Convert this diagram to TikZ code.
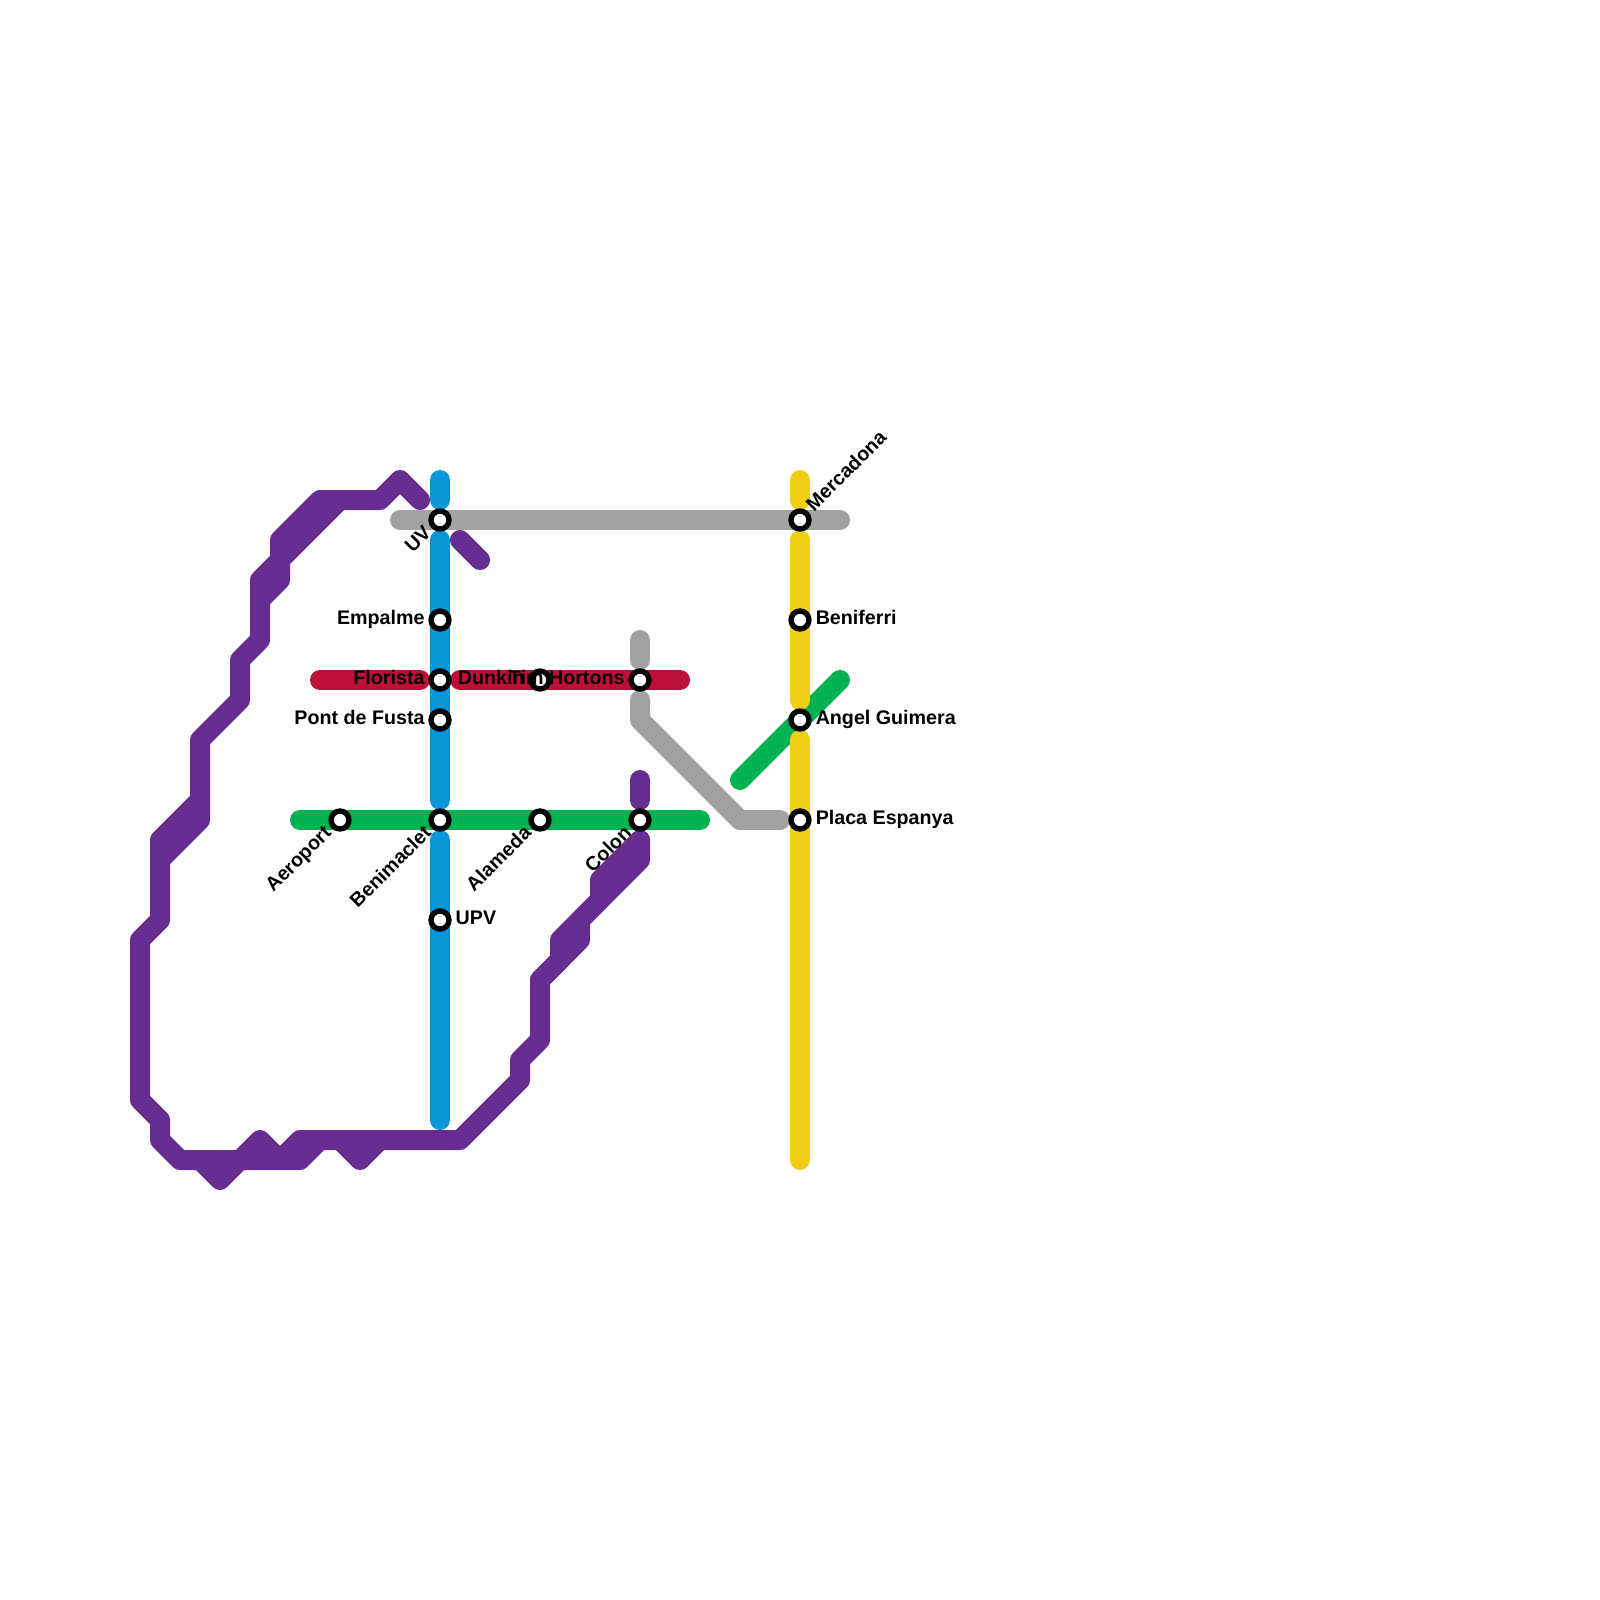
\documentclass[tikz,border=0pt]{standalone}
\usepackage{fontspec}
\setmainfont{Liberation Sans}
\definecolor{linepurple}{HTML}{662C90}
\definecolor{lineblue}{HTML}{0896D7}
\definecolor{linegreen}{HTML}{00B251}
\definecolor{linegray}{HTML}{A2A2A2}
\definecolor{lineyellow}{HTML}{F0CE15}
\definecolor{linered}{HTML}{BD1038}

\begin{document}
\begin{tikzpicture}[
      x=0.25cm, y=-0.25cm,
      track/.style={line width=0.25cm, line cap=round, line join=round},
      stn/.style={circle, draw=black, fill=white, line width=1.9pt, minimum size=6.4pt, inner sep=0pt, outer sep=0pt},
      lbl/.style={font=\bfseries\fontsize{7}{8}\selectfont, inner sep=0pt, text height=3.2pt, text depth=0pt},
      lblleft/.style={lbl, anchor=east, xshift=-5.3pt},
      lblright/.style={lbl, anchor=west, xshift=5.4pt},
      lbldown/.style={lbl, anchor=east, rotate=45, xshift=-5.3pt},
      lblup/.style={lbl, anchor=west, rotate=45, xshift=5.3pt}
    ]
      \useasboundingbox (0,0) rectangle (80,80);

      % Line ends
      \coordinate (graywest) at (20,26);
      \coordinate (grayeast) at (42,26);
      \coordinate (graytop) at (32,32);
      \coordinate (grayup) at (32,33);
      \coordinate (graydown) at (32,35);
      \coordinate (graybend) at (32,36);
      \coordinate (grayfoot) at (37,41);
      \coordinate (grayend) at (39,41);
      \coordinate (greenwest) at (15,41);
      \coordinate (greeneast) at (35,41);
      \coordinate (greenlow) at (37,39);
      \coordinate (greenhigh) at (42,34);
      \coordinate (redwest) at (16,34);
      \coordinate (redstop) at (21,34);
      \coordinate (redstart) at (23,34);
      \coordinate (redeast) at (34,34);
      \coordinate (bluetop) at (22,24);
      \coordinate (bluea) at (22,25);
      \coordinate (blueb) at (22,27);
      \coordinate (bluec) at (22,40);
      \coordinate (blued) at (22,42);
      \coordinate (bluebottom) at (22,56);
      \coordinate (yellowtop) at (40,24);
      \coordinate (yellowa) at (40,25);
      \coordinate (yellowb) at (40,27);
      \coordinate (yellowc) at (40,35);
      \coordinate (yellowd) at (40,37);
      \coordinate (yellowbottom) at (40,58);

      % Purple
      \draw[track, linepurple] (21,25) -- (20,24) -- (19,25) -- (17,25) -- (14,28) -- (14,29) -- (13,30)
        -- (13,32) -- (12,33) -- (12,35) -- (10,37) -- (10,41) -- (8,43) -- (8,46) -- (7,47) -- (7,55)
        -- (8,56) -- (8,57) -- (9,58) -- (15,58) -- (16,57) -- (23,57) -- (26,54) -- (26,53) -- (27,52)
        -- (27,49) -- (29,47) -- (29,46) -- (32,43) -- (32,42);
      \draw[track, linepurple] (17,25) -- (16,25) -- (14,27) -- (14,28) -- (13,29) -- (13,30);
      \draw[track, linepurple] (10,40) -- (8,42) -- (8,43);
      \draw[track, linepurple] (10,58) -- (11,59) -- (13,57) -- (14,58) -- (15,57) -- (16,57);
      \draw[track, linepurple] (17,57) -- (18,58) -- (19,57);
      \draw[track, linepurple] (27,49) -- (28,48) -- (28,47) -- (30,45) -- (30,44) -- (32,42);
      \draw[track, linepurple] (23,27) -- (24,28);
      \draw[track, linepurple] (32,39) -- (32,40);

      % Gray
      \draw[track, linegray] (graywest) -- (grayeast);
      \draw[track, linegray] (graytop) -- (grayup);
      \draw[track, linegray] (graydown) -- (graybend) -- (grayfoot) -- (grayend);

      % Red
      \draw[track, linered] (redwest) -- (redstop);
      \draw[track, linered] (redstart) -- (redeast);

      % Green
      \draw[track, linegreen] (greenwest) -- (greeneast);
      \draw[track, linegreen] (greenlow) -- (greenhigh);

      % Blue
      \draw[track, lineblue] (bluetop) -- (bluea);
      \draw[track, lineblue] (blueb) -- (bluec);
      \draw[track, lineblue] (blued) -- (bluebottom);

      % Yellow
      \draw[track, lineyellow] (yellowtop) -- (yellowa);
      \draw[track, lineyellow] (yellowb) -- (yellowc);
      \draw[track, lineyellow] (yellowd) -- (yellowbottom);

      % Stations
      \node[stn] (uv) at (22,26) {};
      \node[stn] (empalme) at (22,31) {};
      \node[stn] (florista) at (22,34) {};
      \node[stn] (pont) at (22,36) {};
      \node[stn] (benimaclet) at (22,41) {};
      \node[stn] (upv) at (22,46) {};
      \node[stn] (aeroport) at (17,41) {};
      \node[stn] (alameda) at (27,41) {};
      \node[stn] (colon) at (32,41) {};
      \node[stn] (dunkin) at (27,34) {};
      \node[stn] (tim) at (32,34) {};
      \node[stn] (mercadona) at (40,26) {};
      \node[stn] (beniferri) at (40,31) {};
      \node[stn] (angel) at (40,36) {};
      \node[stn] (placa) at (40,41) {};

      % Labels
      \node[lbldown] (uvlabel) at (uv) {UV};
      \node[lblleft] (empalmelabel) at (empalme) {Empalme};
      \node[lblleft] (floristalabel) at (florista) {Florista};
      \node[lblleft] (pontlabel) at (pont) {Pont de Fusta};
      \node[lbldown] (benimacletlabel) at (benimaclet) {Benimaclet};
      \node[lblright] (upvlabel) at (upv) {UPV};
      \node[lbldown] (aeroportlabel) at (aeroport) {Aeroport};
      \node[lbldown] (alamedalabel) at (alameda) {Alameda};
      \node[lbldown] (colonlabel) at (colon) {Colon};
      \node[lblleft] (dunkinlabel) at (dunkin) {Dunkin};
      \node[lblleft] (timlabel) at (tim) {Tim Hortons};
      \node[lblup] (mercadonalabel) at (mercadona) {Mercadona};
      \node[lblright] (beniferrilabel) at (beniferri) {Beniferri};
      \node[lblright] (angellabel) at (angel) {Angel Guimera};
      \node[lblright] (placalabel) at (placa) {Placa Espanya};
    \end{tikzpicture}
\end{document}
